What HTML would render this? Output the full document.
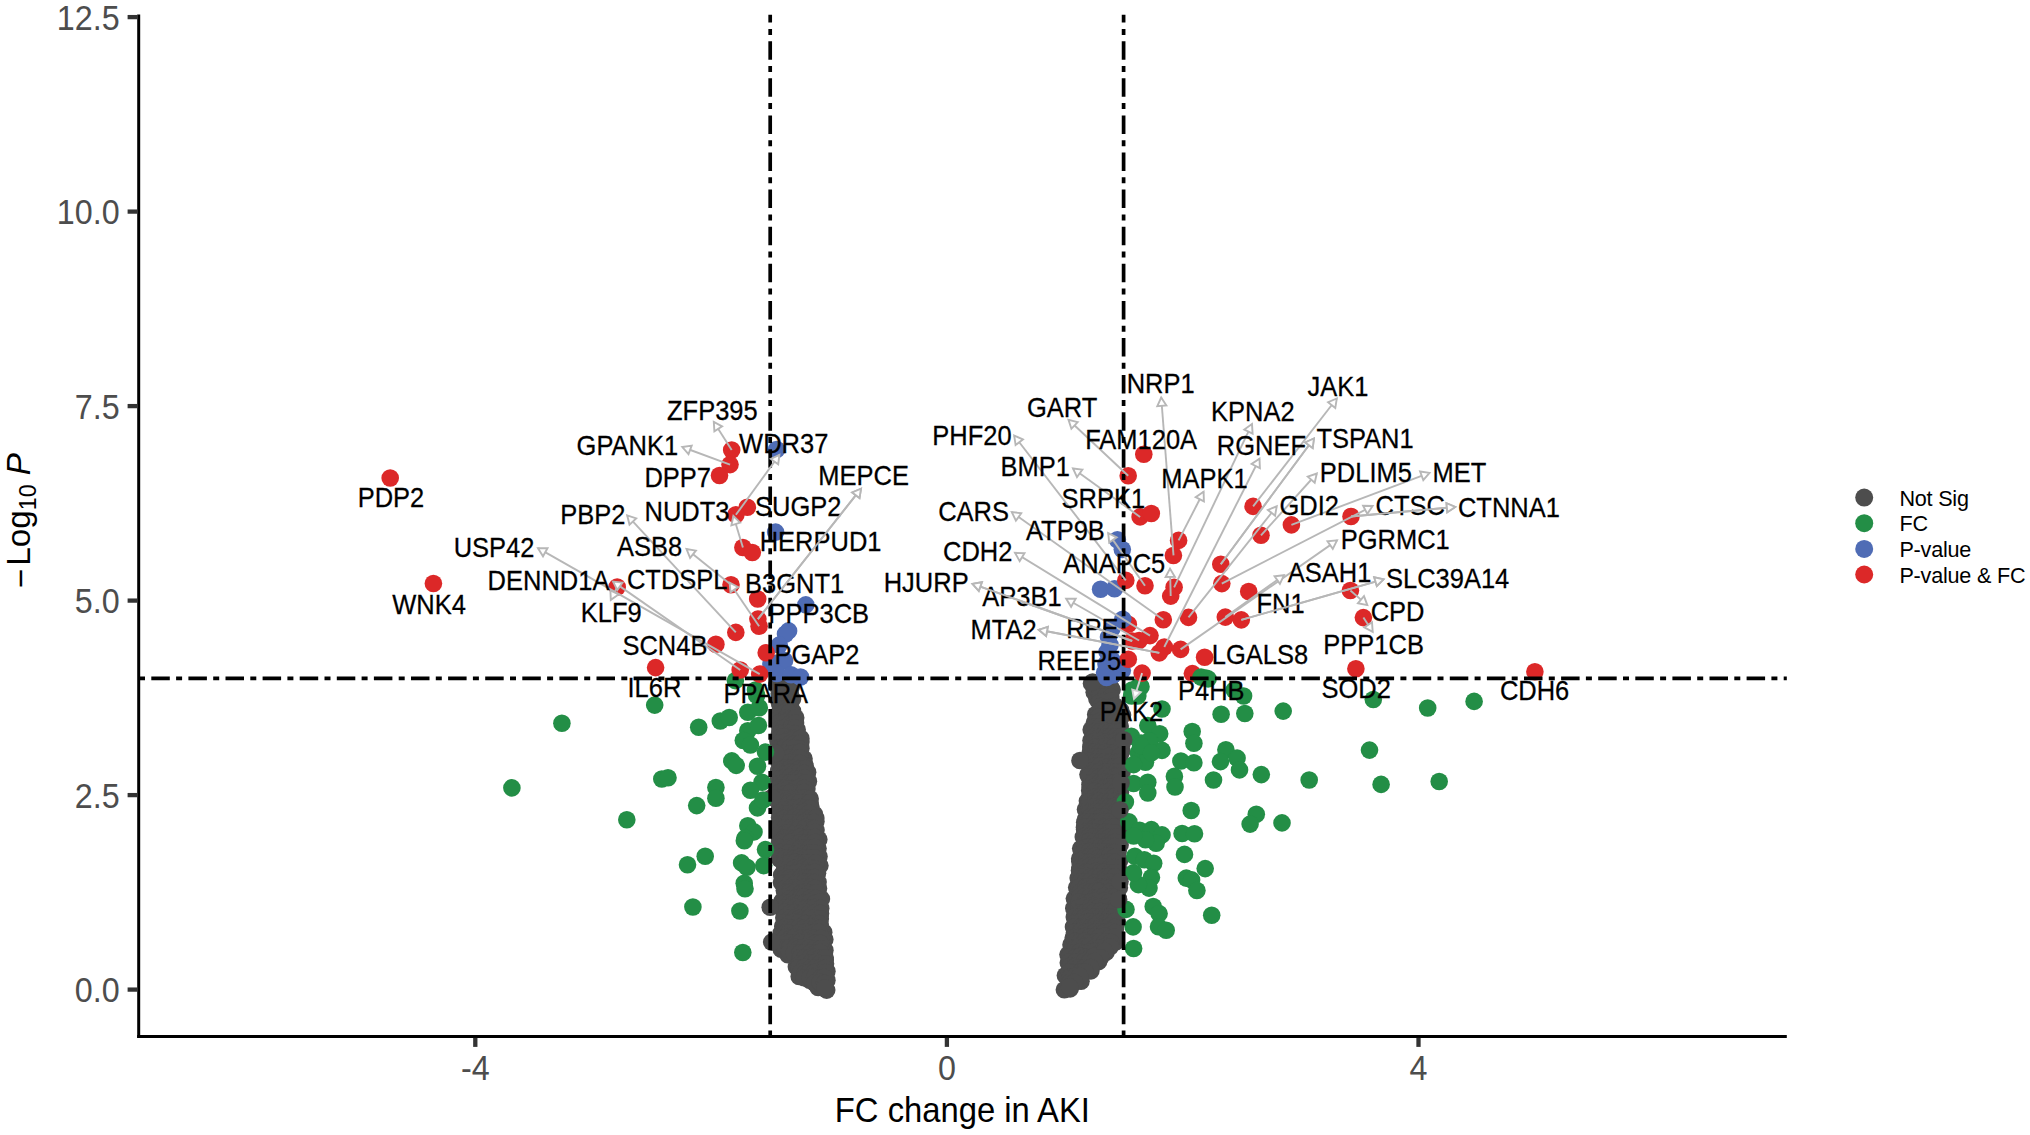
<!DOCTYPE html><html><head><meta charset="utf-8"><title>Volcano plot</title>
<style>html,body{margin:0;padding:0;background:#fff}svg{display:block}text{font-family:"Liberation Sans",sans-serif}</style></head><body>
<svg width="2030" height="1135" viewBox="0 0 2030 1135">
<rect width="2030" height="1135" fill="#fff"/>
<g fill="#4d4d4d">
<circle cx="779.0" cy="687.0" r="8.8"/><circle cx="791.2" cy="686.7" r="8.8"/><circle cx="792.5" cy="699.1" r="8.8"/><circle cx="792.5" cy="711.0" r="8.8"/><circle cx="794.8" cy="720.8" r="8.8"/><circle cx="797.2" cy="729.8" r="8.8"/><circle cx="800.9" cy="742.0" r="8.8"/><circle cx="800.9" cy="748.3" r="8.8"/><circle cx="804.0" cy="758.7" r="8.8"/><circle cx="805.0" cy="765.2" r="8.8"/><circle cx="807.6" cy="772.3" r="8.8"/><circle cx="808.4" cy="781.2" r="8.8"/><circle cx="806.9" cy="788.9" r="8.8"/><circle cx="809.4" cy="799.1" r="8.8"/><circle cx="810.8" cy="806.6" r="8.8"/><circle cx="814.4" cy="814.2" r="8.8"/><circle cx="815.9" cy="821.5" r="8.8"/><circle cx="816.0" cy="830.1" r="8.8"/><circle cx="818.8" cy="839.4" r="8.8"/><circle cx="818.0" cy="848.6" r="8.8"/><circle cx="819.0" cy="856.4" r="8.8"/><circle cx="819.9" cy="865.6" r="8.8"/><circle cx="817.5" cy="873.2" r="8.8"/><circle cx="818.1" cy="882.1" r="8.8"/><circle cx="818.5" cy="888.4" r="8.8"/><circle cx="821.4" cy="898.9" r="8.8"/><circle cx="820.1" cy="908.8" r="8.8"/><circle cx="819.9" cy="916.0" r="8.8"/><circle cx="820.2" cy="924.5" r="8.8"/><circle cx="823.7" cy="932.2" r="8.8"/><circle cx="824.8" cy="939.4" r="8.8"/><circle cx="824.9" cy="950.3" r="8.8"/><circle cx="825.2" cy="959.9" r="8.8"/><circle cx="826.9" cy="971.3" r="8.8"/><circle cx="826.9" cy="980.2" r="8.8"/><circle cx="826.7" cy="990.1" r="8.8"/><circle cx="818.2" cy="987.5" r="8.8"/><circle cx="809.8" cy="980.4" r="8.8"/><circle cx="799.2" cy="976.5" r="8.8"/><circle cx="796.4" cy="966.9" r="8.8"/><circle cx="795.4" cy="956.9" r="8.8"/><circle cx="788.0" cy="954.8" r="8.8"/><circle cx="781.3" cy="949.2" r="8.8"/><circle cx="782.2" cy="942.8" r="8.8"/><circle cx="781.1" cy="933.2" r="8.8"/><circle cx="782.8" cy="926.2" r="8.8"/><circle cx="783.8" cy="917.8" r="8.8"/><circle cx="781.8" cy="908.1" r="8.8"/><circle cx="782.1" cy="901.2" r="8.8"/><circle cx="784.3" cy="890.6" r="8.8"/><circle cx="781.5" cy="882.5" r="8.8"/><circle cx="781.7" cy="875.0" r="8.8"/><circle cx="780.0" cy="859.3" r="8.8"/><circle cx="777.8" cy="851.8" r="8.8"/><circle cx="779.2" cy="844.2" r="8.8"/><circle cx="781.3" cy="836.6" r="8.8"/><circle cx="779.7" cy="828.4" r="8.8"/><circle cx="780.3" cy="818.7" r="8.8"/><circle cx="781.1" cy="812.8" r="8.8"/><circle cx="781.0" cy="804.9" r="8.8"/><circle cx="779.3" cy="795.7" r="8.8"/><circle cx="778.2" cy="788.4" r="8.8"/><circle cx="778.0" cy="778.7" r="8.8"/><circle cx="778.6" cy="771.0" r="8.8"/><circle cx="779.1" cy="762.7" r="8.8"/><circle cx="777.8" cy="755.0" r="8.8"/><circle cx="778.2" cy="747.6" r="8.8"/><circle cx="777.9" cy="741.1" r="8.8"/><circle cx="780.1" cy="730.9" r="8.8"/><circle cx="778.7" cy="723.5" r="8.8"/><circle cx="779.1" cy="714.9" r="8.8"/><circle cx="780.9" cy="709.5" r="8.8"/><circle cx="779.5" cy="700.0" r="8.8"/><circle cx="779.3" cy="687.4" r="8.8"/><circle cx="784.7" cy="687.6" r="8.8"/><circle cx="790.5" cy="687.5" r="8.8"/><circle cx="779.2" cy="693.7" r="8.8"/><circle cx="785.0" cy="692.4" r="8.8"/><circle cx="790.1" cy="692.2" r="8.8"/><circle cx="780.0" cy="698.8" r="8.8"/><circle cx="785.6" cy="698.3" r="8.8"/><circle cx="789.6" cy="697.8" r="8.8"/><circle cx="779.5" cy="703.4" r="8.8"/><circle cx="785.1" cy="703.4" r="8.8"/><circle cx="789.7" cy="702.6" r="8.8"/><circle cx="780.5" cy="708.8" r="8.8"/><circle cx="785.6" cy="708.5" r="8.8"/><circle cx="790.5" cy="708.4" r="8.8"/><circle cx="779.6" cy="713.0" r="8.8"/><circle cx="784.8" cy="712.2" r="8.8"/><circle cx="789.2" cy="712.6" r="8.8"/><circle cx="779.6" cy="718.3" r="8.8"/><circle cx="785.7" cy="717.9" r="8.8"/><circle cx="790.7" cy="718.8" r="8.8"/><circle cx="795.7" cy="717.8" r="8.8"/><circle cx="779.6" cy="722.6" r="8.8"/><circle cx="784.5" cy="722.5" r="8.8"/><circle cx="790.2" cy="723.6" r="8.8"/><circle cx="795.5" cy="723.0" r="8.8"/><circle cx="780.2" cy="728.5" r="8.8"/><circle cx="784.3" cy="728.3" r="8.8"/><circle cx="790.7" cy="728.5" r="8.8"/><circle cx="795.4" cy="728.0" r="8.8"/><circle cx="779.5" cy="733.5" r="8.8"/><circle cx="784.7" cy="733.5" r="8.8"/><circle cx="790.8" cy="732.8" r="8.8"/><circle cx="794.8" cy="733.7" r="8.8"/><circle cx="780.4" cy="737.5" r="8.8"/><circle cx="784.4" cy="737.4" r="8.8"/><circle cx="790.6" cy="738.5" r="8.8"/><circle cx="794.4" cy="738.5" r="8.8"/><circle cx="800.8" cy="738.3" r="8.8"/><circle cx="779.8" cy="743.1" r="8.8"/><circle cx="784.4" cy="742.2" r="8.8"/><circle cx="790.8" cy="743.2" r="8.8"/><circle cx="795.0" cy="743.7" r="8.8"/><circle cx="799.9" cy="743.6" r="8.8"/><circle cx="780.5" cy="747.5" r="8.8"/><circle cx="784.6" cy="747.7" r="8.8"/><circle cx="789.6" cy="748.1" r="8.8"/><circle cx="794.6" cy="747.9" r="8.8"/><circle cx="799.4" cy="748.7" r="8.8"/><circle cx="779.8" cy="752.9" r="8.8"/><circle cx="785.1" cy="753.6" r="8.8"/><circle cx="789.9" cy="753.7" r="8.8"/><circle cx="795.0" cy="753.1" r="8.8"/><circle cx="800.0" cy="752.2" r="8.8"/><circle cx="779.9" cy="757.5" r="8.8"/><circle cx="784.2" cy="758.5" r="8.8"/><circle cx="789.5" cy="758.0" r="8.8"/><circle cx="795.4" cy="758.1" r="8.8"/><circle cx="799.7" cy="758.0" r="8.8"/><circle cx="780.1" cy="763.5" r="8.8"/><circle cx="784.4" cy="763.1" r="8.8"/><circle cx="789.6" cy="762.6" r="8.8"/><circle cx="795.4" cy="763.0" r="8.8"/><circle cx="800.1" cy="763.4" r="8.8"/><circle cx="780.7" cy="767.9" r="8.8"/><circle cx="785.2" cy="768.0" r="8.8"/><circle cx="790.0" cy="768.3" r="8.8"/><circle cx="794.9" cy="768.1" r="8.8"/><circle cx="800.0" cy="768.7" r="8.8"/><circle cx="805.3" cy="768.6" r="8.8"/><circle cx="780.7" cy="772.6" r="8.8"/><circle cx="785.1" cy="773.7" r="8.8"/><circle cx="790.5" cy="772.4" r="8.8"/><circle cx="794.4" cy="772.9" r="8.8"/><circle cx="799.3" cy="772.6" r="8.8"/><circle cx="804.3" cy="773.3" r="8.8"/><circle cx="780.5" cy="778.6" r="8.8"/><circle cx="784.4" cy="778.3" r="8.8"/><circle cx="790.3" cy="777.4" r="8.8"/><circle cx="795.6" cy="778.7" r="8.8"/><circle cx="799.6" cy="778.7" r="8.8"/><circle cx="804.8" cy="778.0" r="8.8"/><circle cx="780.8" cy="783.5" r="8.8"/><circle cx="784.5" cy="782.9" r="8.8"/><circle cx="790.0" cy="782.7" r="8.8"/><circle cx="794.5" cy="782.7" r="8.8"/><circle cx="800.4" cy="782.2" r="8.8"/><circle cx="805.1" cy="782.9" r="8.8"/><circle cx="779.2" cy="787.7" r="8.8"/><circle cx="785.2" cy="788.0" r="8.8"/><circle cx="789.3" cy="788.8" r="8.8"/><circle cx="795.5" cy="788.8" r="8.8"/><circle cx="799.4" cy="787.6" r="8.8"/><circle cx="804.3" cy="788.4" r="8.8"/><circle cx="779.6" cy="792.4" r="8.8"/><circle cx="784.9" cy="793.7" r="8.8"/><circle cx="790.5" cy="792.6" r="8.8"/><circle cx="794.4" cy="793.7" r="8.8"/><circle cx="800.1" cy="793.3" r="8.8"/><circle cx="804.3" cy="792.3" r="8.8"/><circle cx="780.3" cy="797.9" r="8.8"/><circle cx="784.3" cy="798.7" r="8.8"/><circle cx="790.2" cy="798.5" r="8.8"/><circle cx="794.3" cy="798.6" r="8.8"/><circle cx="799.3" cy="798.6" r="8.8"/><circle cx="804.9" cy="797.7" r="8.8"/><circle cx="810.1" cy="798.7" r="8.8"/><circle cx="779.6" cy="802.4" r="8.8"/><circle cx="785.0" cy="802.6" r="8.8"/><circle cx="789.4" cy="802.5" r="8.8"/><circle cx="794.3" cy="802.5" r="8.8"/><circle cx="799.7" cy="802.7" r="8.8"/><circle cx="805.4" cy="802.7" r="8.8"/><circle cx="810.0" cy="802.5" r="8.8"/><circle cx="779.8" cy="807.2" r="8.8"/><circle cx="784.6" cy="807.2" r="8.8"/><circle cx="790.4" cy="808.1" r="8.8"/><circle cx="794.5" cy="808.0" r="8.8"/><circle cx="800.7" cy="807.4" r="8.8"/><circle cx="805.5" cy="807.9" r="8.8"/><circle cx="810.0" cy="808.5" r="8.8"/><circle cx="779.8" cy="813.0" r="8.8"/><circle cx="785.3" cy="813.8" r="8.8"/><circle cx="789.7" cy="813.5" r="8.8"/><circle cx="795.3" cy="813.2" r="8.8"/><circle cx="799.8" cy="812.8" r="8.8"/><circle cx="804.3" cy="812.4" r="8.8"/><circle cx="809.3" cy="813.4" r="8.8"/><circle cx="779.6" cy="817.5" r="8.8"/><circle cx="784.3" cy="818.5" r="8.8"/><circle cx="790.6" cy="818.3" r="8.8"/><circle cx="794.7" cy="817.6" r="8.8"/><circle cx="799.7" cy="817.9" r="8.8"/><circle cx="804.5" cy="817.9" r="8.8"/><circle cx="809.6" cy="818.7" r="8.8"/><circle cx="815.8" cy="818.1" r="8.8"/><circle cx="779.6" cy="823.7" r="8.8"/><circle cx="784.7" cy="822.8" r="8.8"/><circle cx="789.2" cy="822.8" r="8.8"/><circle cx="795.0" cy="823.0" r="8.8"/><circle cx="799.5" cy="823.0" r="8.8"/><circle cx="804.2" cy="822.6" r="8.8"/><circle cx="809.3" cy="822.8" r="8.8"/><circle cx="814.3" cy="822.2" r="8.8"/><circle cx="779.7" cy="827.6" r="8.8"/><circle cx="785.1" cy="828.0" r="8.8"/><circle cx="790.4" cy="828.3" r="8.8"/><circle cx="795.3" cy="828.6" r="8.8"/><circle cx="799.8" cy="827.7" r="8.8"/><circle cx="805.8" cy="827.4" r="8.8"/><circle cx="810.4" cy="828.2" r="8.8"/><circle cx="814.3" cy="828.5" r="8.8"/><circle cx="780.6" cy="833.2" r="8.8"/><circle cx="785.4" cy="833.5" r="8.8"/><circle cx="789.4" cy="833.0" r="8.8"/><circle cx="795.0" cy="833.5" r="8.8"/><circle cx="800.5" cy="833.5" r="8.8"/><circle cx="805.1" cy="833.6" r="8.8"/><circle cx="810.3" cy="833.3" r="8.8"/><circle cx="814.6" cy="832.2" r="8.8"/><circle cx="779.4" cy="837.8" r="8.8"/><circle cx="784.4" cy="838.5" r="8.8"/><circle cx="790.1" cy="838.2" r="8.8"/><circle cx="795.2" cy="838.3" r="8.8"/><circle cx="800.0" cy="837.2" r="8.8"/><circle cx="805.5" cy="838.4" r="8.8"/><circle cx="810.0" cy="838.1" r="8.8"/><circle cx="815.3" cy="837.3" r="8.8"/><circle cx="780.4" cy="842.6" r="8.8"/><circle cx="784.3" cy="842.6" r="8.8"/><circle cx="790.4" cy="842.5" r="8.8"/><circle cx="795.4" cy="843.8" r="8.8"/><circle cx="800.0" cy="842.8" r="8.8"/><circle cx="805.0" cy="843.3" r="8.8"/><circle cx="810.4" cy="843.2" r="8.8"/><circle cx="815.2" cy="842.3" r="8.8"/><circle cx="779.4" cy="847.6" r="8.8"/><circle cx="785.4" cy="847.7" r="8.8"/><circle cx="790.1" cy="847.2" r="8.8"/><circle cx="794.3" cy="847.6" r="8.8"/><circle cx="800.3" cy="848.3" r="8.8"/><circle cx="805.3" cy="847.7" r="8.8"/><circle cx="810.0" cy="847.9" r="8.8"/><circle cx="814.9" cy="847.4" r="8.8"/><circle cx="780.6" cy="852.5" r="8.8"/><circle cx="785.8" cy="853.7" r="8.8"/><circle cx="789.2" cy="852.9" r="8.8"/><circle cx="795.5" cy="853.7" r="8.8"/><circle cx="799.9" cy="852.6" r="8.8"/><circle cx="804.5" cy="853.7" r="8.8"/><circle cx="809.5" cy="853.1" r="8.8"/><circle cx="814.4" cy="853.0" r="8.8"/><circle cx="780.7" cy="857.4" r="8.8"/><circle cx="785.5" cy="858.0" r="8.8"/><circle cx="790.6" cy="858.3" r="8.8"/><circle cx="794.6" cy="858.6" r="8.8"/><circle cx="800.0" cy="857.2" r="8.8"/><circle cx="804.2" cy="858.0" r="8.8"/><circle cx="809.9" cy="857.7" r="8.8"/><circle cx="814.4" cy="857.8" r="8.8"/><circle cx="784.7" cy="863.5" r="8.8"/><circle cx="789.2" cy="863.4" r="8.8"/><circle cx="795.5" cy="862.4" r="8.8"/><circle cx="800.7" cy="863.3" r="8.8"/><circle cx="805.6" cy="862.7" r="8.8"/><circle cx="809.8" cy="862.8" r="8.8"/><circle cx="815.8" cy="863.1" r="8.8"/><circle cx="784.8" cy="867.9" r="8.8"/><circle cx="789.6" cy="867.3" r="8.8"/><circle cx="794.4" cy="868.5" r="8.8"/><circle cx="799.7" cy="868.7" r="8.8"/><circle cx="804.6" cy="867.6" r="8.8"/><circle cx="810.0" cy="867.5" r="8.8"/><circle cx="814.8" cy="868.7" r="8.8"/><circle cx="785.6" cy="873.5" r="8.8"/><circle cx="790.2" cy="873.7" r="8.8"/><circle cx="795.7" cy="873.1" r="8.8"/><circle cx="800.4" cy="872.3" r="8.8"/><circle cx="805.4" cy="872.9" r="8.8"/><circle cx="810.4" cy="873.2" r="8.8"/><circle cx="814.7" cy="872.3" r="8.8"/><circle cx="785.7" cy="877.4" r="8.8"/><circle cx="790.0" cy="877.7" r="8.8"/><circle cx="794.7" cy="878.4" r="8.8"/><circle cx="800.8" cy="877.6" r="8.8"/><circle cx="805.2" cy="877.7" r="8.8"/><circle cx="810.1" cy="877.8" r="8.8"/><circle cx="814.5" cy="877.5" r="8.8"/><circle cx="784.5" cy="883.6" r="8.8"/><circle cx="790.0" cy="882.6" r="8.8"/><circle cx="795.7" cy="883.8" r="8.8"/><circle cx="799.9" cy="882.4" r="8.8"/><circle cx="804.5" cy="882.3" r="8.8"/><circle cx="809.7" cy="882.3" r="8.8"/><circle cx="814.6" cy="882.6" r="8.8"/><circle cx="785.1" cy="888.6" r="8.8"/><circle cx="790.4" cy="887.9" r="8.8"/><circle cx="794.9" cy="888.0" r="8.8"/><circle cx="799.8" cy="887.7" r="8.8"/><circle cx="804.3" cy="887.6" r="8.8"/><circle cx="810.7" cy="887.4" r="8.8"/><circle cx="815.0" cy="888.2" r="8.8"/><circle cx="785.6" cy="892.5" r="8.8"/><circle cx="789.6" cy="892.6" r="8.8"/><circle cx="794.8" cy="892.9" r="8.8"/><circle cx="800.7" cy="893.6" r="8.8"/><circle cx="805.6" cy="892.2" r="8.8"/><circle cx="809.3" cy="893.3" r="8.8"/><circle cx="815.6" cy="893.0" r="8.8"/><circle cx="785.1" cy="897.2" r="8.8"/><circle cx="789.8" cy="898.7" r="8.8"/><circle cx="795.5" cy="898.6" r="8.8"/><circle cx="800.8" cy="897.6" r="8.8"/><circle cx="804.4" cy="897.4" r="8.8"/><circle cx="810.0" cy="898.3" r="8.8"/><circle cx="815.7" cy="898.4" r="8.8"/><circle cx="785.2" cy="903.4" r="8.8"/><circle cx="789.9" cy="903.1" r="8.8"/><circle cx="794.3" cy="903.5" r="8.8"/><circle cx="799.6" cy="903.7" r="8.8"/><circle cx="805.2" cy="902.7" r="8.8"/><circle cx="809.4" cy="902.6" r="8.8"/><circle cx="815.2" cy="903.3" r="8.8"/><circle cx="819.4" cy="902.3" r="8.8"/><circle cx="785.0" cy="908.1" r="8.8"/><circle cx="789.8" cy="907.6" r="8.8"/><circle cx="795.2" cy="907.2" r="8.8"/><circle cx="799.7" cy="907.9" r="8.8"/><circle cx="805.7" cy="908.2" r="8.8"/><circle cx="810.6" cy="908.0" r="8.8"/><circle cx="814.6" cy="907.6" r="8.8"/><circle cx="820.7" cy="908.3" r="8.8"/><circle cx="784.7" cy="912.2" r="8.8"/><circle cx="790.0" cy="913.3" r="8.8"/><circle cx="794.9" cy="912.6" r="8.8"/><circle cx="800.3" cy="913.7" r="8.8"/><circle cx="804.6" cy="912.3" r="8.8"/><circle cx="809.7" cy="912.9" r="8.8"/><circle cx="815.3" cy="912.5" r="8.8"/><circle cx="820.5" cy="913.4" r="8.8"/><circle cx="785.0" cy="917.5" r="8.8"/><circle cx="790.8" cy="917.7" r="8.8"/><circle cx="795.5" cy="917.6" r="8.8"/><circle cx="799.6" cy="918.4" r="8.8"/><circle cx="804.7" cy="918.7" r="8.8"/><circle cx="810.0" cy="917.5" r="8.8"/><circle cx="814.6" cy="917.9" r="8.8"/><circle cx="820.3" cy="918.7" r="8.8"/><circle cx="784.4" cy="922.8" r="8.8"/><circle cx="789.5" cy="923.8" r="8.8"/><circle cx="794.4" cy="922.3" r="8.8"/><circle cx="799.3" cy="922.8" r="8.8"/><circle cx="805.6" cy="923.6" r="8.8"/><circle cx="810.4" cy="923.8" r="8.8"/><circle cx="815.7" cy="922.7" r="8.8"/><circle cx="819.5" cy="923.7" r="8.8"/><circle cx="785.4" cy="927.3" r="8.8"/><circle cx="790.3" cy="927.8" r="8.8"/><circle cx="794.8" cy="927.7" r="8.8"/><circle cx="799.5" cy="927.2" r="8.8"/><circle cx="804.6" cy="927.8" r="8.8"/><circle cx="810.7" cy="927.4" r="8.8"/><circle cx="815.7" cy="927.5" r="8.8"/><circle cx="819.8" cy="928.5" r="8.8"/><circle cx="785.5" cy="932.9" r="8.8"/><circle cx="789.3" cy="933.0" r="8.8"/><circle cx="794.8" cy="933.7" r="8.8"/><circle cx="799.5" cy="932.8" r="8.8"/><circle cx="805.6" cy="932.2" r="8.8"/><circle cx="809.9" cy="933.5" r="8.8"/><circle cx="815.4" cy="932.3" r="8.8"/><circle cx="819.3" cy="932.3" r="8.8"/><circle cx="785.7" cy="937.6" r="8.8"/><circle cx="790.4" cy="938.6" r="8.8"/><circle cx="794.7" cy="937.6" r="8.8"/><circle cx="800.7" cy="938.2" r="8.8"/><circle cx="804.6" cy="938.3" r="8.8"/><circle cx="809.7" cy="937.6" r="8.8"/><circle cx="814.2" cy="938.4" r="8.8"/><circle cx="820.7" cy="938.2" r="8.8"/><circle cx="785.7" cy="942.2" r="8.8"/><circle cx="789.6" cy="943.0" r="8.8"/><circle cx="795.7" cy="943.7" r="8.8"/><circle cx="799.8" cy="942.6" r="8.8"/><circle cx="804.9" cy="943.0" r="8.8"/><circle cx="810.7" cy="942.5" r="8.8"/><circle cx="815.5" cy="943.4" r="8.8"/><circle cx="820.5" cy="943.4" r="8.8"/><circle cx="785.2" cy="947.7" r="8.8"/><circle cx="789.7" cy="947.8" r="8.8"/><circle cx="795.5" cy="947.3" r="8.8"/><circle cx="799.5" cy="948.4" r="8.8"/><circle cx="804.6" cy="947.3" r="8.8"/><circle cx="809.3" cy="948.1" r="8.8"/><circle cx="814.7" cy="948.8" r="8.8"/><circle cx="820.6" cy="948.8" r="8.8"/><circle cx="789.6" cy="952.3" r="8.8"/><circle cx="794.4" cy="953.0" r="8.8"/><circle cx="800.3" cy="952.9" r="8.8"/><circle cx="804.6" cy="952.9" r="8.8"/><circle cx="810.2" cy="953.3" r="8.8"/><circle cx="815.4" cy="953.6" r="8.8"/><circle cx="820.3" cy="952.4" r="8.8"/><circle cx="800.5" cy="957.7" r="8.8"/><circle cx="805.1" cy="957.8" r="8.8"/><circle cx="810.4" cy="957.5" r="8.8"/><circle cx="814.6" cy="957.6" r="8.8"/><circle cx="819.4" cy="958.6" r="8.8"/><circle cx="825.1" cy="957.7" r="8.8"/><circle cx="799.8" cy="963.8" r="8.8"/><circle cx="805.0" cy="962.6" r="8.8"/><circle cx="810.5" cy="963.2" r="8.8"/><circle cx="815.8" cy="962.4" r="8.8"/><circle cx="820.0" cy="963.5" r="8.8"/><circle cx="825.5" cy="963.7" r="8.8"/><circle cx="799.3" cy="967.7" r="8.8"/><circle cx="804.4" cy="967.5" r="8.8"/><circle cx="810.8" cy="968.1" r="8.8"/><circle cx="815.7" cy="967.8" r="8.8"/><circle cx="820.6" cy="967.9" r="8.8"/><circle cx="824.6" cy="968.4" r="8.8"/><circle cx="800.7" cy="972.4" r="8.8"/><circle cx="805.2" cy="973.2" r="8.8"/><circle cx="809.5" cy="972.8" r="8.8"/><circle cx="814.4" cy="972.5" r="8.8"/><circle cx="819.6" cy="973.2" r="8.8"/><circle cx="825.2" cy="972.5" r="8.8"/><circle cx="804.2" cy="977.7" r="8.8"/><circle cx="810.3" cy="977.5" r="8.8"/><circle cx="814.7" cy="977.5" r="8.8"/><circle cx="820.5" cy="978.1" r="8.8"/><circle cx="824.3" cy="977.4" r="8.8"/><circle cx="814.8" cy="983.1" r="8.8"/><circle cx="820.2" cy="982.3" r="8.8"/><circle cx="824.5" cy="983.3" r="8.8"/><circle cx="824.9" cy="987.7" r="8.8"/><circle cx="1091.5" cy="683.4" r="8.8"/><circle cx="1107.0" cy="684.2" r="8.8"/><circle cx="1112.1" cy="689.7" r="8.8"/><circle cx="1114.5" cy="705.5" r="8.8"/><circle cx="1120.6" cy="710.1" r="8.8"/><circle cx="1122.5" cy="715.1" r="8.8"/><circle cx="1120.0" cy="726.1" r="8.8"/><circle cx="1121.8" cy="734.8" r="8.8"/><circle cx="1121.9" cy="743.9" r="8.8"/><circle cx="1121.9" cy="751.1" r="8.8"/><circle cx="1120.0" cy="761.6" r="8.8"/><circle cx="1122.1" cy="771.9" r="8.8"/><circle cx="1119.8" cy="780.4" r="8.8"/><circle cx="1120.3" cy="789.3" r="8.8"/><circle cx="1118.9" cy="798.0" r="8.8"/><circle cx="1119.7" cy="809.3" r="8.8"/><circle cx="1117.9" cy="816.8" r="8.8"/><circle cx="1120.2" cy="827.1" r="8.8"/><circle cx="1117.7" cy="833.5" r="8.8"/><circle cx="1120.1" cy="844.9" r="8.8"/><circle cx="1118.2" cy="850.9" r="8.8"/><circle cx="1119.5" cy="860.8" r="8.8"/><circle cx="1119.1" cy="870.4" r="8.8"/><circle cx="1119.2" cy="878.3" r="8.8"/><circle cx="1119.4" cy="887.8" r="8.8"/><circle cx="1118.3" cy="899.0" r="8.8"/><circle cx="1119.4" cy="905.0" r="8.8"/><circle cx="1116.6" cy="913.7" r="8.8"/><circle cx="1117.2" cy="921.7" r="8.8"/><circle cx="1115.3" cy="929.2" r="8.8"/><circle cx="1116.0" cy="941.7" r="8.8"/><circle cx="1106.0" cy="952.2" r="8.8"/><circle cx="1098.6" cy="961.6" r="8.8"/><circle cx="1090.9" cy="970.9" r="8.8"/><circle cx="1081.0" cy="981.2" r="8.8"/><circle cx="1070.1" cy="988.9" r="8.8"/><circle cx="1064.4" cy="989.7" r="8.8"/><circle cx="1065.4" cy="975.5" r="8.8"/><circle cx="1068.3" cy="962.8" r="8.8"/><circle cx="1068.0" cy="954.6" r="8.8"/><circle cx="1071.0" cy="944.7" r="8.8"/><circle cx="1073.3" cy="937.6" r="8.8"/><circle cx="1073.5" cy="927.0" r="8.8"/><circle cx="1074.3" cy="917.1" r="8.8"/><circle cx="1073.8" cy="908.3" r="8.8"/><circle cx="1074.4" cy="898.6" r="8.8"/><circle cx="1076.7" cy="887.6" r="8.8"/><circle cx="1078.2" cy="878.1" r="8.8"/><circle cx="1079.5" cy="870.5" r="8.8"/><circle cx="1079.7" cy="858.7" r="8.8"/><circle cx="1080.7" cy="848.6" r="8.8"/><circle cx="1083.3" cy="836.9" r="8.8"/><circle cx="1084.6" cy="829.5" r="8.8"/><circle cx="1085.8" cy="818.9" r="8.8"/><circle cx="1085.5" cy="809.4" r="8.8"/><circle cx="1087.4" cy="801.1" r="8.8"/><circle cx="1089.7" cy="790.5" r="8.8"/><circle cx="1090.0" cy="784.5" r="8.8"/><circle cx="1088.0" cy="774.6" r="8.8"/><circle cx="1090.6" cy="765.0" r="8.8"/><circle cx="1091.1" cy="756.3" r="8.8"/><circle cx="1090.8" cy="746.9" r="8.8"/><circle cx="1091.0" cy="740.5" r="8.8"/><circle cx="1091.2" cy="729.8" r="8.8"/><circle cx="1095.7" cy="714.5" r="8.8"/><circle cx="1096.9" cy="699.0" r="8.8"/><circle cx="1094.2" cy="692.3" r="8.8"/><circle cx="1095.3" cy="687.6" r="8.8"/><circle cx="1099.5" cy="687.5" r="8.8"/><circle cx="1104.4" cy="687.0" r="8.8"/><circle cx="1110.2" cy="686.8" r="8.8"/><circle cx="1100.6" cy="692.1" r="8.8"/><circle cx="1105.1" cy="692.6" r="8.8"/><circle cx="1109.4" cy="692.8" r="8.8"/><circle cx="1100.2" cy="696.8" r="8.8"/><circle cx="1105.5" cy="696.6" r="8.8"/><circle cx="1110.8" cy="697.1" r="8.8"/><circle cx="1099.8" cy="702.4" r="8.8"/><circle cx="1104.9" cy="701.5" r="8.8"/><circle cx="1110.4" cy="701.3" r="8.8"/><circle cx="1100.5" cy="706.6" r="8.8"/><circle cx="1105.2" cy="707.8" r="8.8"/><circle cx="1110.1" cy="707.3" r="8.8"/><circle cx="1114.7" cy="706.2" r="8.8"/><circle cx="1099.3" cy="711.4" r="8.8"/><circle cx="1105.2" cy="711.9" r="8.8"/><circle cx="1110.0" cy="712.6" r="8.8"/><circle cx="1114.4" cy="711.6" r="8.8"/><circle cx="1120.2" cy="711.2" r="8.8"/><circle cx="1099.2" cy="716.8" r="8.8"/><circle cx="1104.4" cy="716.8" r="8.8"/><circle cx="1109.6" cy="717.1" r="8.8"/><circle cx="1115.1" cy="716.5" r="8.8"/><circle cx="1120.2" cy="717.0" r="8.8"/><circle cx="1094.4" cy="722.7" r="8.8"/><circle cx="1099.6" cy="721.4" r="8.8"/><circle cx="1104.4" cy="722.2" r="8.8"/><circle cx="1110.6" cy="722.5" r="8.8"/><circle cx="1114.8" cy="721.6" r="8.8"/><circle cx="1119.2" cy="722.2" r="8.8"/><circle cx="1095.1" cy="726.8" r="8.8"/><circle cx="1100.2" cy="726.9" r="8.8"/><circle cx="1105.7" cy="727.4" r="8.8"/><circle cx="1109.6" cy="727.6" r="8.8"/><circle cx="1114.3" cy="727.1" r="8.8"/><circle cx="1119.8" cy="726.6" r="8.8"/><circle cx="1094.3" cy="732.4" r="8.8"/><circle cx="1099.2" cy="732.1" r="8.8"/><circle cx="1105.7" cy="731.4" r="8.8"/><circle cx="1109.5" cy="732.2" r="8.8"/><circle cx="1115.0" cy="732.2" r="8.8"/><circle cx="1120.5" cy="731.5" r="8.8"/><circle cx="1094.7" cy="736.7" r="8.8"/><circle cx="1099.3" cy="737.6" r="8.8"/><circle cx="1105.5" cy="737.3" r="8.8"/><circle cx="1109.2" cy="737.6" r="8.8"/><circle cx="1115.4" cy="736.9" r="8.8"/><circle cx="1120.4" cy="736.9" r="8.8"/><circle cx="1094.6" cy="741.4" r="8.8"/><circle cx="1099.6" cy="741.3" r="8.8"/><circle cx="1104.7" cy="742.4" r="8.8"/><circle cx="1110.3" cy="742.6" r="8.8"/><circle cx="1115.3" cy="741.6" r="8.8"/><circle cx="1120.1" cy="741.9" r="8.8"/><circle cx="1095.5" cy="747.0" r="8.8"/><circle cx="1099.6" cy="747.2" r="8.8"/><circle cx="1105.7" cy="746.5" r="8.8"/><circle cx="1110.6" cy="746.2" r="8.8"/><circle cx="1114.6" cy="746.6" r="8.8"/><circle cx="1120.4" cy="747.7" r="8.8"/><circle cx="1090.4" cy="751.7" r="8.8"/><circle cx="1095.6" cy="751.7" r="8.8"/><circle cx="1099.6" cy="752.7" r="8.8"/><circle cx="1105.2" cy="752.3" r="8.8"/><circle cx="1110.3" cy="752.8" r="8.8"/><circle cx="1115.0" cy="752.5" r="8.8"/><circle cx="1120.3" cy="752.6" r="8.8"/><circle cx="1089.9" cy="757.4" r="8.8"/><circle cx="1095.1" cy="756.7" r="8.8"/><circle cx="1099.5" cy="757.2" r="8.8"/><circle cx="1104.3" cy="757.7" r="8.8"/><circle cx="1109.4" cy="756.2" r="8.8"/><circle cx="1114.4" cy="757.7" r="8.8"/><circle cx="1119.8" cy="756.4" r="8.8"/><circle cx="1089.2" cy="761.3" r="8.8"/><circle cx="1095.3" cy="762.2" r="8.8"/><circle cx="1100.3" cy="762.4" r="8.8"/><circle cx="1104.3" cy="762.1" r="8.8"/><circle cx="1109.8" cy="762.5" r="8.8"/><circle cx="1115.5" cy="762.6" r="8.8"/><circle cx="1119.3" cy="762.6" r="8.8"/><circle cx="1090.7" cy="767.7" r="8.8"/><circle cx="1094.4" cy="766.5" r="8.8"/><circle cx="1099.4" cy="766.3" r="8.8"/><circle cx="1105.6" cy="767.5" r="8.8"/><circle cx="1110.2" cy="767.5" r="8.8"/><circle cx="1115.2" cy="766.7" r="8.8"/><circle cx="1119.4" cy="766.4" r="8.8"/><circle cx="1090.4" cy="771.5" r="8.8"/><circle cx="1094.7" cy="771.9" r="8.8"/><circle cx="1099.2" cy="771.6" r="8.8"/><circle cx="1104.7" cy="772.3" r="8.8"/><circle cx="1109.8" cy="771.7" r="8.8"/><circle cx="1115.7" cy="772.0" r="8.8"/><circle cx="1120.6" cy="772.2" r="8.8"/><circle cx="1089.2" cy="776.9" r="8.8"/><circle cx="1094.9" cy="777.4" r="8.8"/><circle cx="1099.8" cy="777.3" r="8.8"/><circle cx="1105.1" cy="776.5" r="8.8"/><circle cx="1110.6" cy="776.3" r="8.8"/><circle cx="1115.5" cy="776.5" r="8.8"/><circle cx="1119.2" cy="776.5" r="8.8"/><circle cx="1090.4" cy="782.8" r="8.8"/><circle cx="1094.2" cy="782.0" r="8.8"/><circle cx="1100.0" cy="782.5" r="8.8"/><circle cx="1104.5" cy="782.0" r="8.8"/><circle cx="1109.8" cy="782.5" r="8.8"/><circle cx="1114.6" cy="782.7" r="8.8"/><circle cx="1119.7" cy="781.5" r="8.8"/><circle cx="1090.3" cy="787.0" r="8.8"/><circle cx="1094.4" cy="787.2" r="8.8"/><circle cx="1099.3" cy="787.5" r="8.8"/><circle cx="1105.3" cy="787.5" r="8.8"/><circle cx="1110.2" cy="786.8" r="8.8"/><circle cx="1114.8" cy="786.8" r="8.8"/><circle cx="1120.6" cy="786.3" r="8.8"/><circle cx="1090.6" cy="791.2" r="8.8"/><circle cx="1094.5" cy="791.6" r="8.8"/><circle cx="1100.6" cy="792.0" r="8.8"/><circle cx="1104.8" cy="792.6" r="8.8"/><circle cx="1109.6" cy="791.9" r="8.8"/><circle cx="1115.1" cy="792.4" r="8.8"/><circle cx="1120.4" cy="792.2" r="8.8"/><circle cx="1089.8" cy="796.7" r="8.8"/><circle cx="1094.4" cy="797.5" r="8.8"/><circle cx="1100.3" cy="797.4" r="8.8"/><circle cx="1104.5" cy="796.9" r="8.8"/><circle cx="1110.4" cy="797.1" r="8.8"/><circle cx="1114.4" cy="796.9" r="8.8"/><circle cx="1120.6" cy="796.6" r="8.8"/><circle cx="1089.5" cy="801.7" r="8.8"/><circle cx="1095.3" cy="802.5" r="8.8"/><circle cx="1099.4" cy="801.4" r="8.8"/><circle cx="1104.6" cy="801.7" r="8.8"/><circle cx="1110.0" cy="801.5" r="8.8"/><circle cx="1114.7" cy="801.5" r="8.8"/><circle cx="1120.8" cy="802.4" r="8.8"/><circle cx="1089.4" cy="807.7" r="8.8"/><circle cx="1094.4" cy="806.8" r="8.8"/><circle cx="1100.8" cy="807.5" r="8.8"/><circle cx="1105.4" cy="806.9" r="8.8"/><circle cx="1109.5" cy="807.2" r="8.8"/><circle cx="1114.4" cy="806.5" r="8.8"/><circle cx="1119.8" cy="806.3" r="8.8"/><circle cx="1089.8" cy="812.5" r="8.8"/><circle cx="1095.3" cy="812.0" r="8.8"/><circle cx="1100.2" cy="811.9" r="8.8"/><circle cx="1104.4" cy="812.2" r="8.8"/><circle cx="1109.8" cy="812.4" r="8.8"/><circle cx="1115.7" cy="811.9" r="8.8"/><circle cx="1090.1" cy="817.4" r="8.8"/><circle cx="1094.9" cy="816.6" r="8.8"/><circle cx="1100.4" cy="817.6" r="8.8"/><circle cx="1105.4" cy="817.3" r="8.8"/><circle cx="1110.6" cy="817.3" r="8.8"/><circle cx="1115.2" cy="816.9" r="8.8"/><circle cx="1084.7" cy="822.2" r="8.8"/><circle cx="1089.4" cy="821.9" r="8.8"/><circle cx="1095.5" cy="822.3" r="8.8"/><circle cx="1100.2" cy="821.6" r="8.8"/><circle cx="1104.9" cy="821.9" r="8.8"/><circle cx="1110.2" cy="821.9" r="8.8"/><circle cx="1115.3" cy="822.7" r="8.8"/><circle cx="1084.5" cy="827.2" r="8.8"/><circle cx="1090.4" cy="826.8" r="8.8"/><circle cx="1095.0" cy="827.8" r="8.8"/><circle cx="1099.3" cy="827.1" r="8.8"/><circle cx="1104.5" cy="827.5" r="8.8"/><circle cx="1110.7" cy="827.0" r="8.8"/><circle cx="1114.4" cy="827.1" r="8.8"/><circle cx="1085.1" cy="832.3" r="8.8"/><circle cx="1090.0" cy="832.2" r="8.8"/><circle cx="1095.5" cy="832.0" r="8.8"/><circle cx="1099.9" cy="832.7" r="8.8"/><circle cx="1104.5" cy="832.3" r="8.8"/><circle cx="1109.8" cy="832.4" r="8.8"/><circle cx="1114.4" cy="832.8" r="8.8"/><circle cx="1084.8" cy="836.3" r="8.8"/><circle cx="1089.6" cy="836.8" r="8.8"/><circle cx="1094.2" cy="836.9" r="8.8"/><circle cx="1099.9" cy="837.3" r="8.8"/><circle cx="1104.8" cy="836.6" r="8.8"/><circle cx="1109.6" cy="837.4" r="8.8"/><circle cx="1115.7" cy="837.0" r="8.8"/><circle cx="1084.6" cy="842.5" r="8.8"/><circle cx="1089.8" cy="841.5" r="8.8"/><circle cx="1094.4" cy="842.4" r="8.8"/><circle cx="1100.5" cy="842.2" r="8.8"/><circle cx="1105.0" cy="842.1" r="8.8"/><circle cx="1109.6" cy="842.7" r="8.8"/><circle cx="1114.8" cy="842.2" r="8.8"/><circle cx="1085.5" cy="847.5" r="8.8"/><circle cx="1089.9" cy="846.7" r="8.8"/><circle cx="1095.1" cy="846.4" r="8.8"/><circle cx="1100.5" cy="846.8" r="8.8"/><circle cx="1105.6" cy="846.6" r="8.8"/><circle cx="1109.8" cy="846.6" r="8.8"/><circle cx="1114.9" cy="846.5" r="8.8"/><circle cx="1084.2" cy="852.4" r="8.8"/><circle cx="1089.6" cy="851.6" r="8.8"/><circle cx="1094.7" cy="852.0" r="8.8"/><circle cx="1099.9" cy="852.2" r="8.8"/><circle cx="1105.3" cy="851.8" r="8.8"/><circle cx="1110.7" cy="852.6" r="8.8"/><circle cx="1114.3" cy="852.5" r="8.8"/><circle cx="1085.6" cy="857.5" r="8.8"/><circle cx="1089.4" cy="857.5" r="8.8"/><circle cx="1095.2" cy="856.2" r="8.8"/><circle cx="1099.2" cy="857.7" r="8.8"/><circle cx="1105.2" cy="856.6" r="8.8"/><circle cx="1109.4" cy="856.4" r="8.8"/><circle cx="1114.6" cy="857.4" r="8.8"/><circle cx="1079.8" cy="861.4" r="8.8"/><circle cx="1085.6" cy="862.5" r="8.8"/><circle cx="1089.5" cy="862.6" r="8.8"/><circle cx="1095.2" cy="862.5" r="8.8"/><circle cx="1100.3" cy="862.6" r="8.8"/><circle cx="1105.5" cy="862.5" r="8.8"/><circle cx="1109.5" cy="862.3" r="8.8"/><circle cx="1115.0" cy="862.4" r="8.8"/><circle cx="1079.9" cy="867.6" r="8.8"/><circle cx="1085.1" cy="866.6" r="8.8"/><circle cx="1089.6" cy="866.4" r="8.8"/><circle cx="1095.0" cy="866.3" r="8.8"/><circle cx="1099.9" cy="866.4" r="8.8"/><circle cx="1105.0" cy="867.0" r="8.8"/><circle cx="1110.1" cy="867.6" r="8.8"/><circle cx="1114.2" cy="867.5" r="8.8"/><circle cx="1079.9" cy="872.1" r="8.8"/><circle cx="1085.3" cy="872.5" r="8.8"/><circle cx="1089.8" cy="871.9" r="8.8"/><circle cx="1095.7" cy="871.3" r="8.8"/><circle cx="1100.2" cy="872.2" r="8.8"/><circle cx="1104.2" cy="872.2" r="8.8"/><circle cx="1110.3" cy="872.7" r="8.8"/><circle cx="1114.7" cy="872.8" r="8.8"/><circle cx="1080.0" cy="877.0" r="8.8"/><circle cx="1085.6" cy="876.3" r="8.8"/><circle cx="1090.3" cy="877.2" r="8.8"/><circle cx="1094.7" cy="877.6" r="8.8"/><circle cx="1099.8" cy="877.0" r="8.8"/><circle cx="1105.0" cy="877.4" r="8.8"/><circle cx="1109.5" cy="876.9" r="8.8"/><circle cx="1114.9" cy="877.1" r="8.8"/><circle cx="1080.5" cy="881.7" r="8.8"/><circle cx="1085.5" cy="881.8" r="8.8"/><circle cx="1090.0" cy="881.6" r="8.8"/><circle cx="1095.0" cy="882.8" r="8.8"/><circle cx="1100.2" cy="882.5" r="8.8"/><circle cx="1104.7" cy="881.7" r="8.8"/><circle cx="1109.7" cy="882.1" r="8.8"/><circle cx="1115.2" cy="882.5" r="8.8"/><circle cx="1079.3" cy="887.4" r="8.8"/><circle cx="1085.6" cy="887.1" r="8.8"/><circle cx="1089.3" cy="886.7" r="8.8"/><circle cx="1094.2" cy="886.5" r="8.8"/><circle cx="1100.7" cy="887.2" r="8.8"/><circle cx="1105.3" cy="887.5" r="8.8"/><circle cx="1110.7" cy="887.2" r="8.8"/><circle cx="1115.2" cy="887.2" r="8.8"/><circle cx="1080.3" cy="892.2" r="8.8"/><circle cx="1085.3" cy="891.5" r="8.8"/><circle cx="1090.3" cy="891.9" r="8.8"/><circle cx="1095.4" cy="891.4" r="8.8"/><circle cx="1099.5" cy="891.3" r="8.8"/><circle cx="1105.4" cy="892.7" r="8.8"/><circle cx="1110.2" cy="891.8" r="8.8"/><circle cx="1115.5" cy="892.5" r="8.8"/><circle cx="1080.1" cy="896.6" r="8.8"/><circle cx="1084.7" cy="896.9" r="8.8"/><circle cx="1089.7" cy="896.9" r="8.8"/><circle cx="1095.2" cy="897.7" r="8.8"/><circle cx="1099.3" cy="897.1" r="8.8"/><circle cx="1104.3" cy="896.4" r="8.8"/><circle cx="1110.5" cy="897.1" r="8.8"/><circle cx="1115.7" cy="896.9" r="8.8"/><circle cx="1079.2" cy="901.8" r="8.8"/><circle cx="1085.1" cy="902.7" r="8.8"/><circle cx="1090.8" cy="902.0" r="8.8"/><circle cx="1094.9" cy="901.4" r="8.8"/><circle cx="1100.2" cy="901.5" r="8.8"/><circle cx="1104.4" cy="901.2" r="8.8"/><circle cx="1109.2" cy="902.3" r="8.8"/><circle cx="1114.4" cy="902.7" r="8.8"/><circle cx="1079.3" cy="907.6" r="8.8"/><circle cx="1084.4" cy="906.2" r="8.8"/><circle cx="1090.4" cy="906.6" r="8.8"/><circle cx="1095.4" cy="906.5" r="8.8"/><circle cx="1099.3" cy="907.4" r="8.8"/><circle cx="1105.3" cy="907.6" r="8.8"/><circle cx="1110.4" cy="906.3" r="8.8"/><circle cx="1115.2" cy="907.3" r="8.8"/><circle cx="1079.9" cy="912.7" r="8.8"/><circle cx="1084.6" cy="912.7" r="8.8"/><circle cx="1090.3" cy="911.2" r="8.8"/><circle cx="1094.2" cy="912.2" r="8.8"/><circle cx="1100.5" cy="911.3" r="8.8"/><circle cx="1104.7" cy="912.4" r="8.8"/><circle cx="1109.5" cy="912.6" r="8.8"/><circle cx="1115.0" cy="911.3" r="8.8"/><circle cx="1074.8" cy="917.1" r="8.8"/><circle cx="1079.9" cy="917.3" r="8.8"/><circle cx="1084.4" cy="917.5" r="8.8"/><circle cx="1089.8" cy="917.2" r="8.8"/><circle cx="1095.2" cy="916.9" r="8.8"/><circle cx="1099.8" cy="917.5" r="8.8"/><circle cx="1105.7" cy="917.5" r="8.8"/><circle cx="1110.1" cy="916.7" r="8.8"/><circle cx="1114.3" cy="917.8" r="8.8"/><circle cx="1075.3" cy="922.5" r="8.8"/><circle cx="1079.7" cy="922.2" r="8.8"/><circle cx="1085.8" cy="922.5" r="8.8"/><circle cx="1090.2" cy="921.7" r="8.8"/><circle cx="1094.9" cy="922.6" r="8.8"/><circle cx="1099.8" cy="922.3" r="8.8"/><circle cx="1105.2" cy="922.6" r="8.8"/><circle cx="1110.5" cy="921.7" r="8.8"/><circle cx="1114.2" cy="921.6" r="8.8"/><circle cx="1074.9" cy="927.1" r="8.8"/><circle cx="1080.5" cy="927.6" r="8.8"/><circle cx="1084.3" cy="927.5" r="8.8"/><circle cx="1090.5" cy="927.6" r="8.8"/><circle cx="1095.1" cy="926.6" r="8.8"/><circle cx="1100.6" cy="927.5" r="8.8"/><circle cx="1105.3" cy="927.7" r="8.8"/><circle cx="1109.8" cy="926.3" r="8.8"/><circle cx="1115.1" cy="927.5" r="8.8"/><circle cx="1074.5" cy="932.4" r="8.8"/><circle cx="1080.7" cy="931.6" r="8.8"/><circle cx="1085.2" cy="932.3" r="8.8"/><circle cx="1089.9" cy="931.5" r="8.8"/><circle cx="1094.6" cy="932.4" r="8.8"/><circle cx="1100.5" cy="931.9" r="8.8"/><circle cx="1104.3" cy="932.5" r="8.8"/><circle cx="1110.4" cy="931.6" r="8.8"/><circle cx="1115.1" cy="932.6" r="8.8"/><circle cx="1075.6" cy="937.0" r="8.8"/><circle cx="1080.0" cy="937.1" r="8.8"/><circle cx="1084.5" cy="936.5" r="8.8"/><circle cx="1089.5" cy="937.3" r="8.8"/><circle cx="1094.8" cy="937.1" r="8.8"/><circle cx="1099.8" cy="937.0" r="8.8"/><circle cx="1104.4" cy="936.3" r="8.8"/><circle cx="1110.8" cy="936.8" r="8.8"/><circle cx="1114.4" cy="937.2" r="8.8"/><circle cx="1075.5" cy="941.4" r="8.8"/><circle cx="1080.2" cy="941.8" r="8.8"/><circle cx="1085.0" cy="941.2" r="8.8"/><circle cx="1089.3" cy="942.8" r="8.8"/><circle cx="1095.6" cy="942.0" r="8.8"/><circle cx="1100.1" cy="941.6" r="8.8"/><circle cx="1105.4" cy="941.9" r="8.8"/><circle cx="1110.7" cy="942.4" r="8.8"/><circle cx="1075.5" cy="947.7" r="8.8"/><circle cx="1079.6" cy="946.3" r="8.8"/><circle cx="1084.5" cy="946.5" r="8.8"/><circle cx="1089.3" cy="946.3" r="8.8"/><circle cx="1095.1" cy="947.6" r="8.8"/><circle cx="1099.9" cy="947.7" r="8.8"/><circle cx="1105.7" cy="946.3" r="8.8"/><circle cx="1110.2" cy="946.8" r="8.8"/><circle cx="1074.4" cy="952.7" r="8.8"/><circle cx="1079.6" cy="952.1" r="8.8"/><circle cx="1085.2" cy="952.7" r="8.8"/><circle cx="1090.3" cy="951.8" r="8.8"/><circle cx="1094.9" cy="951.5" r="8.8"/><circle cx="1100.7" cy="952.8" r="8.8"/><circle cx="1104.6" cy="951.3" r="8.8"/><circle cx="1069.6" cy="956.8" r="8.8"/><circle cx="1075.6" cy="957.6" r="8.8"/><circle cx="1080.5" cy="956.3" r="8.8"/><circle cx="1085.5" cy="957.3" r="8.8"/><circle cx="1090.2" cy="957.8" r="8.8"/><circle cx="1094.3" cy="956.4" r="8.8"/><circle cx="1100.4" cy="957.7" r="8.8"/><circle cx="1070.3" cy="961.7" r="8.8"/><circle cx="1075.1" cy="962.4" r="8.8"/><circle cx="1079.4" cy="961.7" r="8.8"/><circle cx="1084.6" cy="961.4" r="8.8"/><circle cx="1090.0" cy="961.5" r="8.8"/><circle cx="1094.6" cy="961.4" r="8.8"/><circle cx="1070.3" cy="966.2" r="8.8"/><circle cx="1075.3" cy="966.5" r="8.8"/><circle cx="1079.3" cy="967.7" r="8.8"/><circle cx="1084.6" cy="967.7" r="8.8"/><circle cx="1090.6" cy="967.6" r="8.8"/><circle cx="1069.4" cy="971.9" r="8.8"/><circle cx="1074.4" cy="972.7" r="8.8"/><circle cx="1080.5" cy="972.2" r="8.8"/><circle cx="1084.9" cy="971.7" r="8.8"/><circle cx="1070.5" cy="977.0" r="8.8"/><circle cx="1075.2" cy="976.4" r="8.8"/><circle cx="1079.6" cy="976.3" r="8.8"/><circle cx="1070.3" cy="982.1" r="8.8"/><circle cx="1074.4" cy="982.6" r="8.8"/><circle cx="1069.6" cy="986.9" r="8.8"/><circle cx="770.2" cy="907.3" r="8.8"/><circle cx="771.7" cy="942.1" r="8.8"/><circle cx="772.0" cy="797.5" r="8.8"/><circle cx="775.8" cy="753.4" r="8.8"/><circle cx="776.7" cy="685.3" r="8.8"/><circle cx="1080.0" cy="760.5" r="8.8"/><circle cx="1092.6" cy="682.0" r="8.8"/>
</g>
<g fill="#238e46">
<circle cx="654.7" cy="705.1" r="8.8"/><circle cx="561.9" cy="723.2" r="8.8"/><circle cx="698.7" cy="727.2" r="8.8"/><circle cx="720.3" cy="721.0" r="8.8"/><circle cx="729.2" cy="717.5" r="8.8"/><circle cx="747.8" cy="712.2" r="8.8"/><circle cx="759.3" cy="707.7" r="8.8"/><circle cx="756.6" cy="695.3" r="8.8"/><circle cx="747.8" cy="730.8" r="8.8"/><circle cx="758.4" cy="725.5" r="8.8"/><circle cx="743.3" cy="740.5" r="8.8"/><circle cx="750.4" cy="745.0" r="8.8"/><circle cx="765.5" cy="752.1" r="8.8"/><circle cx="731.8" cy="760.9" r="8.8"/><circle cx="736.2" cy="765.4" r="8.8"/><circle cx="757.5" cy="766.3" r="8.8"/><circle cx="661.8" cy="779.0" r="8.8"/><circle cx="668.0" cy="777.8" r="8.8"/><circle cx="511.9" cy="787.9" r="8.8"/><circle cx="715.9" cy="787.5" r="8.8"/><circle cx="715.9" cy="798.2" r="8.8"/><circle cx="762.0" cy="782.2" r="8.8"/><circle cx="750.4" cy="790.2" r="8.8"/><circle cx="696.7" cy="805.6" r="8.8"/><circle cx="757.5" cy="807.9" r="8.8"/><circle cx="763.0" cy="800.0" r="8.8"/><circle cx="626.8" cy="819.8" r="8.8"/><circle cx="747.8" cy="825.7" r="8.8"/><circle cx="754.0" cy="831.9" r="8.8"/><circle cx="745.1" cy="838.1" r="8.8"/><circle cx="765.5" cy="849.6" r="8.8"/><circle cx="705.2" cy="856.2" r="8.8"/><circle cx="687.5" cy="864.7" r="8.8"/><circle cx="741.6" cy="862.9" r="8.8"/><circle cx="746.9" cy="867.3" r="8.8"/><circle cx="763.7" cy="865.6" r="8.8"/><circle cx="744.2" cy="883.3" r="8.8"/><circle cx="745.0" cy="888.8" r="8.8"/><circle cx="692.9" cy="907.0" r="8.8"/><circle cx="739.9" cy="911.0" r="8.8"/><circle cx="742.8" cy="952.5" r="8.8"/><circle cx="735.4" cy="680.6" r="8.8"/><circle cx="755.5" cy="690.0" r="8.8"/><circle cx="744.3" cy="840.7" r="8.8"/><circle cx="1138.4" cy="686.6" r="8.8"/><circle cx="1137.8" cy="696.0" r="8.8"/><circle cx="1234.1" cy="690.1" r="8.8"/><circle cx="1243.6" cy="696.0" r="8.8"/><circle cx="1162.0" cy="709.0" r="8.8"/><circle cx="1221.1" cy="714.3" r="8.8"/><circle cx="1244.8" cy="713.5" r="8.8"/><circle cx="1283.2" cy="711.1" r="8.8"/><circle cx="1147.8" cy="725.6" r="8.8"/><circle cx="1159.7" cy="733.8" r="8.8"/><circle cx="1192.2" cy="731.5" r="8.8"/><circle cx="1193.9" cy="743.3" r="8.8"/><circle cx="1131.3" cy="736.2" r="8.8"/><circle cx="1141.0" cy="743.0" r="8.8"/><circle cx="1150.0" cy="741.0" r="8.8"/><circle cx="1162.0" cy="750.4" r="8.8"/><circle cx="1138.4" cy="752.8" r="8.8"/><circle cx="1145.5" cy="762.2" r="8.8"/><circle cx="1133.6" cy="764.6" r="8.8"/><circle cx="1225.9" cy="749.8" r="8.8"/><circle cx="1220.5" cy="761.6" r="8.8"/><circle cx="1237.1" cy="758.1" r="8.8"/><circle cx="1239.5" cy="769.9" r="8.8"/><circle cx="1180.9" cy="761.0" r="8.8"/><circle cx="1193.9" cy="762.8" r="8.8"/><circle cx="1174.4" cy="776.4" r="8.8"/><circle cx="1175.0" cy="787.0" r="8.8"/><circle cx="1213.5" cy="780.0" r="8.8"/><circle cx="1261.3" cy="774.6" r="8.8"/><circle cx="1309.2" cy="780.0" r="8.8"/><circle cx="1133.6" cy="783.5" r="8.8"/><circle cx="1147.8" cy="782.3" r="8.8"/><circle cx="1147.8" cy="793.0" r="8.8"/><circle cx="1125.4" cy="802.0" r="8.8"/><circle cx="1191.2" cy="810.5" r="8.8"/><circle cx="1256.3" cy="814.2" r="8.8"/><circle cx="1250.1" cy="824.1" r="8.8"/><circle cx="1282.0" cy="822.9" r="8.8"/><circle cx="1128.9" cy="821.9" r="8.8"/><circle cx="1139.6" cy="830.2" r="8.8"/><circle cx="1151.4" cy="829.6" r="8.8"/><circle cx="1162.0" cy="834.9" r="8.8"/><circle cx="1156.1" cy="843.2" r="8.8"/><circle cx="1145.5" cy="839.7" r="8.8"/><circle cx="1133.6" cy="836.0" r="8.8"/><circle cx="1182.1" cy="833.5" r="8.8"/><circle cx="1194.5" cy="833.7" r="8.8"/><circle cx="1184.5" cy="854.4" r="8.8"/><circle cx="1134.8" cy="856.2" r="8.8"/><circle cx="1144.3" cy="859.8" r="8.8"/><circle cx="1153.7" cy="863.3" r="8.8"/><circle cx="1205.2" cy="868.6" r="8.8"/><circle cx="1186.3" cy="878.1" r="8.8"/><circle cx="1191.6" cy="879.9" r="8.8"/><circle cx="1196.9" cy="890.5" r="8.8"/><circle cx="1151.4" cy="877.5" r="8.8"/><circle cx="1149.0" cy="888.1" r="8.8"/><circle cx="1138.4" cy="884.6" r="8.8"/><circle cx="1133.6" cy="872.8" r="8.8"/><circle cx="1153.2" cy="906.5" r="8.8"/><circle cx="1159.1" cy="913.6" r="8.8"/><circle cx="1126.0" cy="909.4" r="8.8"/><circle cx="1211.7" cy="915.3" r="8.8"/><circle cx="1133.1" cy="926.9" r="8.8"/><circle cx="1158.5" cy="926.7" r="8.8"/><circle cx="1166.2" cy="930.2" r="8.8"/><circle cx="1133.6" cy="948.5" r="8.8"/><circle cx="1373.3" cy="699.5" r="8.8"/><circle cx="1427.7" cy="708.0" r="8.8"/><circle cx="1474.1" cy="701.4" r="8.8"/><circle cx="1369.5" cy="750.1" r="8.8"/><circle cx="1381.1" cy="784.4" r="8.8"/><circle cx="1439.2" cy="781.5" r="8.8"/><circle cx="1205.9" cy="678.1" r="8.8"/><circle cx="1132.0" cy="690.0" r="8.8"/><circle cx="1131.6" cy="696.0" r="8.8"/><circle cx="1141.0" cy="686.8" r="8.8"/><circle cx="1149.0" cy="741.0" r="8.8"/><circle cx="1140.7" cy="745.7" r="8.8"/><circle cx="1151.4" cy="752.8" r="8.8"/>
</g>
<g fill="#4f6cb5">
<circle cx="776.6" cy="449.5" r="8.8"/><circle cx="775.6" cy="532.1" r="8.8"/><circle cx="805.8" cy="604.9" r="8.8"/><circle cx="788.6" cy="630.9" r="8.8"/><circle cx="785.5" cy="634.0" r="8.8"/><circle cx="779.2" cy="645.1" r="8.8"/><circle cx="778.0" cy="662.9" r="8.8"/><circle cx="770.9" cy="664.0" r="8.8"/><circle cx="784.6" cy="660.6" r="8.8"/><circle cx="776.8" cy="673.5" r="8.8"/><circle cx="791.0" cy="674.7" r="8.8"/><circle cx="800.5" cy="677.0" r="8.8"/><circle cx="1117.4" cy="539.8" r="8.8"/><circle cx="1122.3" cy="549.5" r="8.8"/><circle cx="1100.6" cy="589.2" r="8.8"/><circle cx="1114.5" cy="588.7" r="8.8"/><circle cx="1111.8" cy="628.8" r="8.8"/><circle cx="1108.5" cy="637.1" r="8.8"/><circle cx="1107.1" cy="651.9" r="8.8"/><circle cx="1110.0" cy="645.0" r="8.8"/><circle cx="1112.0" cy="660.0" r="8.8"/><circle cx="1106.0" cy="664.0" r="8.8"/><circle cx="1104.6" cy="672.6" r="8.8"/><circle cx="1122.3" cy="670.6" r="8.8"/><circle cx="1113.0" cy="675.0" r="8.8"/><circle cx="1106.5" cy="677.5" r="8.8"/>
</g>
<g fill="#dc2828">
<circle cx="390.2" cy="478.0" r="8.8"/><circle cx="433.4" cy="583.5" r="8.8"/><circle cx="731.7" cy="450.0" r="8.8"/><circle cx="730.0" cy="464.6" r="8.8"/><circle cx="719.5" cy="475.5" r="8.8"/><circle cx="747.3" cy="507.3" r="8.8"/><circle cx="735.9" cy="514.8" r="8.8"/><circle cx="742.9" cy="547.5" r="8.8"/><circle cx="752.3" cy="552.5" r="8.8"/><circle cx="617.2" cy="587.0" r="8.8"/><circle cx="731.0" cy="584.8" r="8.8"/><circle cx="757.7" cy="599.0" r="8.8"/><circle cx="757.9" cy="619.1" r="8.8"/><circle cx="759.1" cy="626.2" r="8.8"/><circle cx="735.8" cy="632.4" r="8.8"/><circle cx="715.9" cy="644.2" r="8.8"/><circle cx="766.2" cy="652.8" r="8.8"/><circle cx="655.6" cy="667.6" r="8.8"/><circle cx="740.2" cy="670.0" r="8.8"/><circle cx="759.7" cy="674.1" r="8.8"/><circle cx="1143.8" cy="454.3" r="8.8"/><circle cx="1128.2" cy="475.8" r="8.8"/><circle cx="1140.1" cy="516.9" r="8.8"/><circle cx="1151.3" cy="513.5" r="8.8"/><circle cx="1178.6" cy="540.4" r="8.8"/><circle cx="1173.4" cy="555.5" r="8.8"/><circle cx="1253.1" cy="506.4" r="8.8"/><circle cx="1261.0" cy="535.3" r="8.8"/><circle cx="1291.4" cy="524.9" r="8.8"/><circle cx="1351.0" cy="516.5" r="8.8"/><circle cx="1220.8" cy="564.2" r="8.8"/><circle cx="1221.8" cy="583.6" r="8.8"/><circle cx="1248.7" cy="591.5" r="8.8"/><circle cx="1125.8" cy="580.4" r="8.8"/><circle cx="1145.0" cy="585.8" r="8.8"/><circle cx="1174.1" cy="587.3" r="8.8"/><circle cx="1170.7" cy="596.1" r="8.8"/><circle cx="1163.3" cy="619.8" r="8.8"/><circle cx="1188.5" cy="617.4" r="8.8"/><circle cx="1225.3" cy="617.1" r="8.8"/><circle cx="1241.3" cy="619.9" r="8.8"/><circle cx="1128.3" cy="624.3" r="8.8"/><circle cx="1150.0" cy="635.6" r="8.8"/><circle cx="1139.1" cy="640.5" r="8.8"/><circle cx="1132.2" cy="641.0" r="8.8"/><circle cx="1164.3" cy="647.0" r="8.8"/><circle cx="1159.3" cy="652.9" r="8.8"/><circle cx="1180.6" cy="649.4" r="8.8"/><circle cx="1204.6" cy="657.2" r="8.8"/><circle cx="1128.3" cy="659.3" r="8.8"/><circle cx="1142.1" cy="673.1" r="8.8"/><circle cx="1192.4" cy="673.6" r="8.8"/><circle cx="1350.4" cy="590.5" r="8.8"/><circle cx="1363.4" cy="617.6" r="8.8"/><circle cx="1355.9" cy="668.7" r="8.8"/><circle cx="1534.9" cy="671.8" r="8.8"/>
</g>
<circle cx="1123.7" cy="739.8" r="8.8" fill="#4d4d4d"/>
<circle cx="1121.0" cy="783.0" r="8.8" fill="#4d4d4d"/>
<circle cx="1120.0" cy="809.7" r="8.8" fill="#4d4d4d"/>
<circle cx="1120.0" cy="881.6" r="8.8" fill="#4d4d4d"/>
<circle cx="1118.6" cy="899.5" r="8.8" fill="#4d4d4d"/>
<circle cx="1122.8" cy="619.3" r="8.8" fill="#4f6cb5"/>
<circle cx="1201.0" cy="677.1" r="8.8" fill="#238e46"/>
<circle cx="1208.1" cy="678.9" r="8.8" fill="#238e46"/>
<g stroke="#000" stroke-width="3.7" fill="none">
<path d="M770.2 1036.6V14.8" stroke-dasharray="6 6.3 18.5 6.3"/>
<path d="M1123.6 1036.6V14.8" stroke-dasharray="6 6.3 18.5 6.3"/>
<path d="M139 678.4H1786.8" stroke-dasharray="6 6.3 18.5 6.3"/>
</g>
<g stroke="#000" stroke-width="3.0" fill="none" stroke-linecap="butt">
<path d="M138.7 14.4V1037.9"/><path d="M137.2 1036.4H1786.8"/>
</g>
<g stroke="#333" stroke-width="4.3" fill="none">
<path d="M127.6 989.6H137.4"/>
<path d="M127.6 795.1H137.4"/>
<path d="M127.6 600.6H137.4"/>
<path d="M127.6 406.1H137.4"/>
<path d="M127.6 211.6H137.4"/>
<path d="M127.6 17.1H137.4"/>
<path d="M475.3 1037.9V1046.9"/>
<path d="M946.9 1037.9V1046.9"/>
<path d="M1418.5 1037.9V1046.9"/>
</g>
<g fill="#4d4d4d" font-size="32.3">
<text transform="translate(119.6 1002.0) scale(1 1.08)" text-anchor="end">0.0</text>
<text transform="translate(119.6 807.5) scale(1 1.08)" text-anchor="end">2.5</text>
<text transform="translate(119.6 613.0) scale(1 1.08)" text-anchor="end">5.0</text>
<text transform="translate(119.6 418.5) scale(1 1.08)" text-anchor="end">7.5</text>
<text transform="translate(119.6 224.0) scale(1 1.08)" text-anchor="end">10.0</text>
<text transform="translate(119.6 29.5) scale(1 1.08)" text-anchor="end">12.5</text>
<text transform="translate(475.3 1079.9) scale(1 1.08)" text-anchor="middle">-4</text>
<text transform="translate(946.9 1079.9) scale(1 1.08)" text-anchor="middle">0</text>
<text transform="translate(1418.5 1079.9) scale(1 1.08)" text-anchor="middle">4</text>
</g>
<text transform="translate(962.4 1122) scale(1 1.06)" font-size="32.8" text-anchor="middle" fill="#000">FC change in AKI</text>
<text transform="translate(30,588.2) rotate(-90)" font-size="33.3" fill="#000"><tspan dy="2">−</tspan><tspan dx="3" dy="-2">Log</tspan><tspan font-size="23.3" dy="5.5">10</tspan><tspan dy="-5.5" dx="9" font-style="italic">P</tspan></text>
<g stroke="#b7b7b7" stroke-width="1.9" fill="none" stroke-linejoin="miter">
<path d="M731.7 450.0L713.8 421.9"/><path d="M722.1 426.4L713.8 421.9L714.4 431.4Z" fill="#fff"/>
<path d="M730.0 464.6L682.3 447.0"/><path d="M691.7 445.6L682.3 447.0L688.5 454.2Z" fill="#fff"/>
<path d="M735.9 514.8L779.4 454.9"/><path d="M778.2 464.3L779.4 454.9L770.8 458.9Z" fill="#fff"/>
<path d="M742.9 547.5L733.4 516.0"/><path d="M740.2 522.6L733.4 516.0L731.4 525.3Z" fill="#fff"/>
<path d="M757.9 619.1L861.0 488.7"/><path d="M859.5 498.1L861.0 488.7L852.2 492.4Z" fill="#fff"/>
<path d="M735.8 632.4L627.2 515.4"/><path d="M636.2 518.4L627.2 515.4L629.5 524.6Z" fill="#fff"/>
<path d="M731.0 584.8L686.5 549.0"/><path d="M695.9 550.6L686.5 549.0L690.1 557.8Z" fill="#fff"/>
<path d="M759.1 626.2L729.6 582.7"/><path d="M738.1 587.0L729.6 582.7L730.5 592.2Z" fill="#fff"/>
<path d="M759.7 674.1L538.0 548.2"/><path d="M547.5 548.3L538.0 548.2L543.0 556.3Z" fill="#fff"/>
<path d="M740.2 670.0L613.1 581.6"/><path d="M622.6 582.6L613.1 581.6L617.3 590.1Z" fill="#fff"/>
<path d="M617.0 587.5L610.8 599.9"/><path d="M610.4 590.4L610.8 599.9L618.6 594.5Z" fill="#fff"/>
<path d="M1128.2 475.8L1068.5 419.8"/><path d="M1077.7 422.1L1068.5 419.8L1071.4 428.8Z" fill="#fff"/>
<path d="M1125.8 580.4L1014.2 435.6"/><path d="M1022.9 439.4L1014.2 435.6L1015.6 445.0Z" fill="#fff"/>
<path d="M1140.1 516.9L1073.0 468.5"/><path d="M1082.4 469.6L1073.0 468.5L1077.0 477.1Z" fill="#fff"/>
<path d="M1163.3 619.8L1011.8 512.1"/><path d="M1021.2 513.2L1011.8 512.1L1015.9 520.7Z" fill="#fff"/>
<path d="M1145.0 585.8L1108.2 533.1"/><path d="M1116.7 537.3L1108.2 533.1L1109.2 542.5Z" fill="#fff"/>
<path d="M1150.0 635.6L1015.0 552.8"/><path d="M1024.5 553.2L1015.0 552.8L1019.7 561.1Z" fill="#fff"/>
<path d="M1132.2 641.0L972.5 583.8"/><path d="M981.9 582.3L972.5 583.8L978.8 590.9Z" fill="#fff"/>
<path d="M1139.1 640.5L1066.2 598.7"/><path d="M1075.7 598.8L1066.2 598.7L1071.1 606.8Z" fill="#fff"/>
<path d="M1159.3 652.9L1038.8 629.8"/><path d="M1047.8 626.8L1038.8 629.8L1046.1 635.9Z" fill="#fff"/>
<path d="M1170.7 596.1L1170.0 568.6"/><path d="M1174.8 576.8L1170.0 568.6L1165.6 577.0Z" fill="#fff"/>
<path d="M1173.5 555.4L1161.2 397.5"/><path d="M1166.4 405.4L1161.2 397.5L1157.3 406.1Z" fill="#fff"/>
<path d="M1178.6 540.4L1203.6 491.8"/><path d="M1203.9 501.3L1203.6 491.8L1195.7 497.1Z" fill="#fff"/>
<path d="M1174.1 587.3L1252.0 424.1"/><path d="M1252.6 433.6L1252.0 424.1L1244.3 429.6Z" fill="#fff"/>
<path d="M1164.3 647.0L1259.5 458.7"/><path d="M1259.9 468.2L1259.5 458.7L1251.6 464.0Z" fill="#fff"/>
<path d="M1253.1 506.4L1336.8 398.5"/><path d="M1335.3 407.9L1336.8 398.5L1328.1 402.2Z" fill="#fff"/>
<path d="M1220.8 564.2L1313.9 438.5"/><path d="M1312.7 447.9L1313.9 438.5L1305.3 442.4Z" fill="#fff"/>
<path d="M1261.0 535.3L1316.8 473.5"/><path d="M1314.7 482.8L1316.8 473.5L1307.8 476.6Z" fill="#fff"/>
<path d="M1291.4 524.9L1429.5 472.9"/><path d="M1423.3 480.1L1429.5 472.9L1420.1 471.5Z" fill="#fff"/>
<path d="M1188.5 617.4L1276.7 506.3"/><path d="M1275.1 515.7L1276.7 506.3L1267.9 509.9Z" fill="#fff"/>
<path d="M1221.8 583.6L1372.6 506.0"/><path d="M1367.3 513.9L1372.6 506.0L1363.1 505.7Z" fill="#fff"/>
<path d="M1351.0 516.5L1455.2 507.0"/><path d="M1447.3 512.3L1455.2 507.0L1446.5 503.2Z" fill="#fff"/>
<path d="M1180.6 649.4L1337.0 540.4"/><path d="M1332.8 548.9L1337.0 540.4L1327.5 541.4Z" fill="#fff"/>
<path d="M1225.3 617.1L1284.0 575.2"/><path d="M1279.9 583.8L1284.0 575.2L1274.6 576.3Z" fill="#fff"/>
<path d="M1241.3 619.9L1383.5 579.3"/><path d="M1376.8 586.0L1383.5 579.3L1374.2 577.2Z" fill="#fff"/>
<path d="M1350.4 590.5L1367.3 605.1"/><path d="M1358.0 603.2L1367.3 605.1L1364.0 596.2Z" fill="#fff"/>
<path d="M1363.4 617.6L1372.7 631.8"/><path d="M1364.3 627.4L1372.7 631.8L1372.0 622.3Z" fill="#fff"/>
</g>
<g stroke="#d0d0d0" stroke-width="1.9" fill="#fff"><path d="M1142.1 673.1L1134.0 698.8"/><path d="M1132.3 689.5L1134.0 698.8L1140.8 692.1Z"/></g>
<g fill="#000" stroke="#000" stroke-width="0.25" font-size="25.5">
<text transform="translate(357.7 506.5) scale(1 1.085)">PDP2</text>
<text transform="translate(392.3 613.8) scale(1 1.085)">WNK4</text>
<text transform="translate(667.0 419.6) scale(1 1.085)">ZFP395</text>
<text transform="translate(576.6 454.7) scale(1 1.085)">GPANK1</text>
<text transform="translate(739.1 452.7) scale(1 1.085)">WDR37</text>
<text transform="translate(644.4 486.6) scale(1 1.085)">DPP7</text>
<text transform="translate(818.3 484.9) scale(1 1.085)">MEPCE</text>
<text transform="translate(644.5 521.3) scale(1 1.085)">NUDT3</text>
<text transform="translate(755.0 516.4) scale(1 1.085)">SUGP2</text>
<text transform="translate(560.3 523.6) scale(1 1.085)">PBP2</text>
<text transform="translate(759.7 550.7) scale(1 1.085)">HERPUD1</text>
<text transform="translate(617.1 556.1) scale(1 1.085)">ASB8</text>
<text transform="translate(453.7 556.8) scale(1 1.085)">USP42</text>
<text transform="translate(487.6 589.5) scale(1 1.085)">DENND1A</text>
<text transform="translate(626.9 588.6) scale(1 1.085)">CTDSPL</text>
<text transform="translate(745.1 592.7) scale(1 1.085)">B3GNT1</text>
<text transform="translate(580.7 621.7) scale(1 1.085)">KLF9</text>
<text transform="translate(768.5 623.2) scale(1 1.085)">PPP3CB</text>
<text transform="translate(622.4 654.5) scale(1 1.085)">SCN4B</text>
<text transform="translate(774.5 663.7) scale(1 1.085)">PGAP2</text>
<text transform="translate(627.5 696.9) scale(1 1.085)">IL6R</text>
<text transform="translate(723.6 703.2) scale(1 1.085)">PPARA</text>
<text transform="translate(1027.0 416.5) scale(1 1.085)">GART</text>
<text transform="translate(932.3 444.6) scale(1 1.085)">PHF20</text>
<text transform="translate(1126.7 393.3) scale(1 1.085)">NRP1</text>
<text transform="translate(1085.2 448.5) scale(1 1.085)">FAM120A</text>
<text transform="translate(1000.4 476.1) scale(1 1.085)">BMP1</text>
<text transform="translate(1211.0 421.2) scale(1 1.085)">KPNA2</text>
<text transform="translate(1216.8 455.2) scale(1 1.085)">RGNEF</text>
<text transform="translate(1161.2 488.0) scale(1 1.085)">MAPK1</text>
<text transform="translate(1061.5 507.7) scale(1 1.085)">SRPK1</text>
<text transform="translate(938.2 520.5) scale(1 1.085)">CARS</text>
<text transform="translate(1026.0 540.3) scale(1 1.085)">ATP9B</text>
<text transform="translate(943.0 561.2) scale(1 1.085)">CDH2</text>
<text transform="translate(1063.3 572.8) scale(1 1.085)">ANAPC5</text>
<text transform="translate(883.7 592.4) scale(1 1.085)">HJURP</text>
<text transform="translate(982.3 605.8) scale(1 1.085)">AP3B1</text>
<text transform="translate(970.5 639.0) scale(1 1.085)">MTA2</text>
<text transform="translate(1066.2 637.9) scale(1 1.085)">RPE</text>
<text transform="translate(1037.6 670.4) scale(1 1.085)">REEP5</text>
<text transform="translate(1099.8 721.4) scale(1 1.085)">PAK2</text>
<text transform="translate(1178.0 700.4) scale(1 1.085)">P4HB</text>
<text transform="translate(1211.8 664.0) scale(1 1.085)">LGALS8</text>
<text transform="translate(1256.5 613.4) scale(1 1.085)">FN1</text>
<text transform="translate(1287.8 582.1) scale(1 1.085)">ASAH1</text>
<text transform="translate(1307.5 395.8) scale(1 1.085)">JAK1</text>
<text transform="translate(1316.4 447.5) scale(1 1.085)">TSPAN1</text>
<text transform="translate(1319.8 482.1) scale(1 1.085)">PDLIM5</text>
<text transform="translate(1432.4 482.1) scale(1 1.085)">MET</text>
<text transform="translate(1279.5 515.0) scale(1 1.085)">GDI2</text>
<text transform="translate(1375.6 515.0) scale(1 1.085)">CTSC</text>
<text transform="translate(1457.9 516.6) scale(1 1.085)">CTNNA1</text>
<text transform="translate(1340.7 549.2) scale(1 1.085)">PGRMC1</text>
<text transform="translate(1386.0 587.9) scale(1 1.085)">SLC39A14</text>
<text transform="translate(1370.7 620.6) scale(1 1.085)">CPD</text>
<text transform="translate(1323.3 653.6) scale(1 1.085)">PPP1CB</text>
<text transform="translate(1321.5 697.6) scale(1 1.085)">SOD2</text>
<text transform="translate(1499.9 700.1) scale(1 1.085)">CDH6</text>
</g>
<g stroke="#b7b7b7" stroke-width="1.9" fill="none" stroke-linejoin="miter">
<path d="M1132.2 641.0L972.5 583.8"/><path d="M981.9 582.3L972.5 583.8L978.8 590.9Z" fill="#fff"/>
<path d="M1159.3 652.9L1038.8 629.8"/><path d="M1047.8 626.8L1038.8 629.8L1046.1 635.9Z" fill="#fff"/>
<path d="M1351.0 516.5L1455.2 507.0"/><path d="M1447.3 512.3L1455.2 507.0L1446.5 503.2Z" fill="#fff"/>
<path d="M1241.3 619.9L1383.5 579.3"/><path d="M1376.8 586.0L1383.5 579.3L1374.2 577.2Z" fill="#fff"/>
<path d="M757.9 619.1L861.0 488.7"/><path d="M859.5 498.1L861.0 488.7L852.2 492.4Z" fill="#fff"/>
<path d="M1220.8 564.2L1313.9 438.5"/><path d="M1312.7 447.9L1313.9 438.5L1305.3 442.4Z" fill="#fff"/>
</g>
<g font-size="21.6" letter-spacing="-0.2" fill="#000">
<circle cx="1864.2" cy="497.6" r="9" fill="#4d4d4d"/><text transform="translate(1899.4 505.7) scale(1 1.05)">Not Sig</text>
<circle cx="1864.2" cy="523.2" r="9" fill="#238e46"/><text transform="translate(1899.4 531.4) scale(1 1.05)">FC</text>
<circle cx="1864.2" cy="548.9" r="9" fill="#4f6cb5"/><text transform="translate(1899.4 557.0) scale(1 1.05)">P-value</text>
<circle cx="1864.2" cy="574.5" r="9" fill="#dc2828"/><text transform="translate(1899.4 582.6) scale(1 1.05)">P-value &amp; FC</text>
</g>
</svg></body></html>
